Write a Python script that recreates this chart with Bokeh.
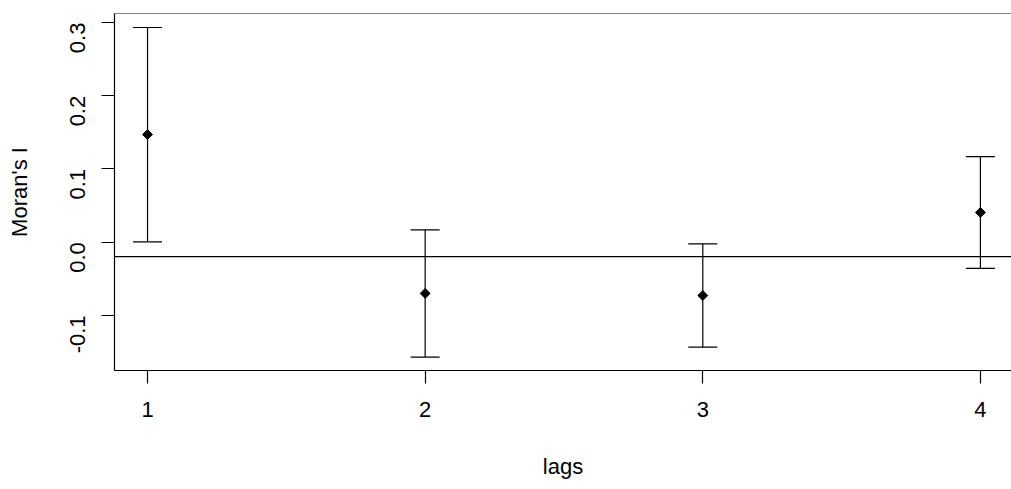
import math
from bokeh.plotting import figure
from bokeh.models import (ColumnDataSource, Whisker, TeeHead, Span, FixedTicker,
                          Range1d)
from bokeh.embed import file_html
from bokeh.resources import INLINE

# data
lags = [1, 2, 3, 4]
moran_i = [0.147, -0.0700, -0.0728, 0.0406]
lower = [0.0003, -0.157, -0.1434, -0.0359]
upper = [0.2933, 0.0169, -0.0022, 0.1170]
expected = -0.0196
x_ticks = [1, 2, 3, 4]
y_ticks = [-0.1, 0.0, 0.1, 0.2, 0.3]
y_tick_labels = ["-0.1", "0.0", "0.1", "0.2", "0.3"]

FONT = "Liberation Sans"
FS = "22px"

p = figure(width=1011, height=489, output_backend="svg", toolbar_location=None,
           x_range=Range1d(0.881, 4.112), y_range=Range1d(-0.1753, 0.3124),
           min_border_left=114, min_border_right=0, min_border_top=13,
           min_border_bottom=119)
p.outline_line_color = None
p.xgrid.visible = False
p.ygrid.visible = False
p.background_fill_color = "white"
p.border_fill_color = "white"

src = ColumnDataSource(dict(x=lags, y=moran_i, lo=lower, hi=upper))

w = Whisker(source=src, base="x", lower="lo", upper="hi",
            line_color="black", line_width=1.2,
            upper_head=TeeHead(size=29, line_color="black", line_width=1.2),
            lower_head=TeeHead(size=29, line_color="black", line_width=1.2))
p.add_layout(w)

p.add_layout(Span(location=expected, dimension="width", line_color="black",
                  line_width=1.2))
p.add_layout(Span(location=0.3124, dimension="width", line_color="black",
                  line_width=1.2))

p.scatter("x", "y", source=src, marker="square", size=7, angle=math.pi / 4,
          fill_color="black", line_color="black")

for ax in (p.xaxis[0], p.yaxis[0]):
    ax.axis_line_color = "black"
    ax.axis_line_width = 1.2
    ax.major_tick_line_color = "black"
    ax.major_tick_line_width = 1.2
    ax.major_tick_out = 13
    ax.major_tick_in = 0
    ax.minor_tick_line_color = None
    ax.major_label_text_font = FONT
    ax.major_label_text_font_size = FS
    ax.major_label_text_color = "black"
    ax.axis_label_text_font = FONT
    ax.axis_label_text_font_size = FS
    ax.axis_label_text_font_style = "normal"
    ax.axis_label_text_color = "black"

p.xaxis.ticker = FixedTicker(ticks=x_ticks)
p.xaxis.major_label_standoff = 18
p.xaxis.axis_label = "lags"
p.xaxis.axis_label_standoff = 34

p.yaxis.ticker = FixedTicker(ticks=y_ticks)
p.yaxis.major_label_overrides = {t: l for t, l in zip(y_ticks, y_tick_labels)}
p.yaxis.major_label_orientation = math.pi / 2
p.yaxis.major_label_standoff = 24
p.yaxis.axis_label = "Moran's I"
p.yaxis.axis_label_standoff = 28

open("out.html", "w").write(file_html(p, INLINE))
